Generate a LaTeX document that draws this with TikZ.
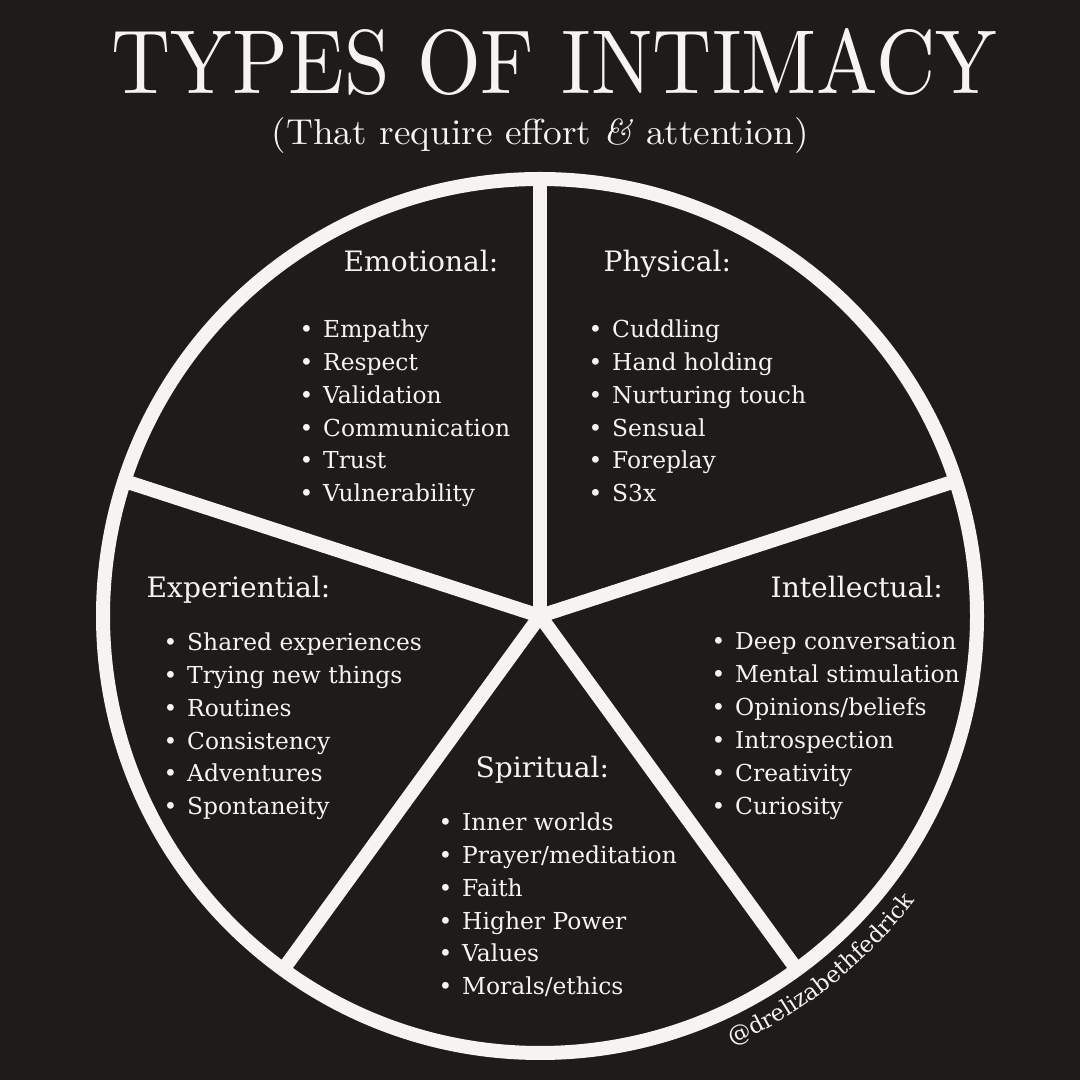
\documentclass[tikz,border=0pt]{standalone}
\usepackage{graphicx}
\usepackage{fontspec}
\newfontfamily\slabfont{DejaVu Serif}
\usetikzlibrary{positioning, decorations.text}

\definecolor{boarddark}{RGB}{31, 27, 27}
\definecolor{chalk}{RGB}{246, 244, 242}

\tikzset{
  rim/.style={draw=chalk, line width=0.14cm},
  sechead/.style={anchor=base west, inner sep=0, text=chalk, font=\slabfont\fontsize{8}{9.35}\selectfont},
  seclist/.style={anchor=north west, inner sep=0, text=chalk, align=left, font=\slabfont\fontsize{6.65}{9.35}\selectfont},
}
\newcommand\bul{\makebox[0.235cm][l]{•}}

\begin{document}
\begin{tikzpicture}
  \fill[boarddark] (0, 0) rectangle (10.8, 10.8);
  \useasboundingbox (0, 0) rectangle (10.8, 10.8);

  % heading
  \node[anchor=base west, inner sep=0, text=chalk] (title) at (1.11, 9.86)
    {\resizebox{8.85cm}{0.65cm}{TYPES OF INTIMACY}};
  \node[anchor=base west, inner sep=0, text=chalk] (subtitle) at (2.71, 9.35)
    {\resizebox{5.37cm}{0.27cm}{(That require effort \textit{\&} attention)}};

  % wheel
  \coordinate (hub) at (5.40, 4.64);
  \coordinate (spokeN)  at ([shift={(90:4.37)}]hub);
  \coordinate (spokeE)  at ([shift={(18:4.37)}]hub);
  \coordinate (spokeSE) at ([shift={(-54:4.37)}]hub);
  \coordinate (spokeSW) at ([shift={(-126:4.37)}]hub);
  \coordinate (spokeW)  at ([shift={(162:4.37)}]hub);
  \draw[rim] (hub) circle[radius=4.37];
  \draw[rim] (hub) -- (spokeN);
  \draw[rim] (hub) -- (spokeE);
  \draw[rim] (hub) -- (spokeSE);
  \draw[rim] (hub) -- (spokeSW);
  \draw[rim] (hub) -- (spokeW);

  % sections
  \node[sechead] (emohead) at (3.43, 8.08) {Emotional:};
  \node[seclist] (emolist) at (2.99, 7.61)
    {\bul Empathy\\ \bul Respect\\ \bul Validation\\ \bul Communication\\ \bul Trust\\ \bul Vulnerability};

  \node[sechead] (phyhead) at (6.03, 8.08) {Physical:};
  \node[seclist] (phylist) at (5.88, 7.61)
    {\bul Cuddling\\ \bul Hand holding\\ \bul Nurturing touch\\ \bul Sensual\\ \bul Foreplay\\ \bul S3x};

  \node[sechead] (exphead) at (1.46, 4.82) {Experiential:};
  \node[seclist] (explist) at (1.63, 4.48)
    {\bul Shared experiences\\ \bul Trying new things\\ \bul Routines\\ \bul Consistency\\ \bul Adventures\\ \bul Spontaneity};

  \node[sechead] (inthead) at (7.70, 4.82) {Intellectual:};
  \node[seclist] (intlist) at (7.11, 4.48)
    {\bul Deep conversation\\ \bul Mental stimulation\\ \bul Opinions/beliefs\\ \bul Introspection\\ \bul Creativity\\ \bul Curiosity};

  \node[sechead] (spihead) at (4.75, 3.02) {Spiritual:};
  \node[seclist] (spilist) at (4.38, 2.68)
    {\bul Inner worlds\\ \bul Prayer/meditation\\ \bul Faith\\ \bul Higher Power\\ \bul Values\\ \bul Morals/ethics};

  % handle
  \coordinate (markstart) at ([shift={(-72:4.71)}]hub);
  \path[decorate, decoration={text along path, text align=center, text color=chalk,
      text={|\slabfont\fontsize{6.5}{8}\selectfont|@drelizabethfedrick}}]
    (markstart) arc[start angle=-72, end angle=-31, radius=4.71];
\end{tikzpicture}
\end{document}
